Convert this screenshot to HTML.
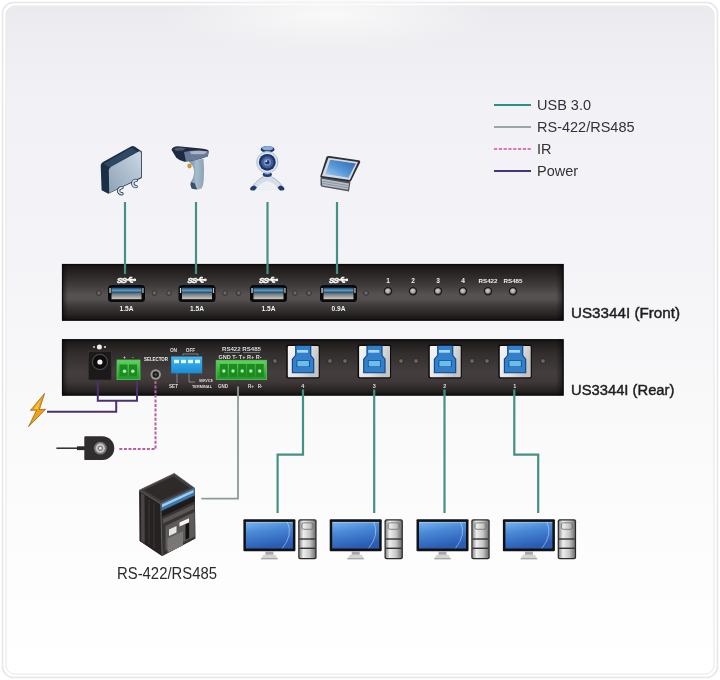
<!DOCTYPE html>
<html><head><meta charset="utf-8">
<style>
html,body{margin:0;padding:0;width:720px;height:680px;overflow:hidden;background:#fff;}
svg{display:block;filter:blur(0.45px);}
text{font-family:"Liberation Sans",sans-serif;}
</style></head>
<body>
<svg width="720" height="680" viewBox="0 0 720 680">
<defs>
  <linearGradient id="bg" x1="0" y1="0" x2="0" y2="1">
    <stop offset="0" stop-color="#eaeaee"/>
    <stop offset="0.03" stop-color="#ededf1"/>
    <stop offset="0.09" stop-color="#f0f0f4"/>
    <stop offset="0.15" stop-color="#f2f2f6"/>
    <stop offset="0.37" stop-color="#f4f4f8"/>
    <stop offset="0.65" stop-color="#fafafa"/>
    <stop offset="0.92" stop-color="#fefefe"/>
    <stop offset="1" stop-color="#ffffff"/>
  </linearGradient>
  <linearGradient id="panel" x1="0" y1="0" x2="0" y2="1">
    <stop offset="0" stop-color="#141111"/>
    <stop offset="0.06" stop-color="#1e1a1a"/>
    <stop offset="0.2" stop-color="#2c2828"/>
    <stop offset="0.42" stop-color="#464141"/>
    <stop offset="0.55" stop-color="#585252"/>
    <stop offset="0.63" stop-color="#545050"/>
    <stop offset="0.74" stop-color="#3f3a3a"/>
    <stop offset="0.88" stop-color="#2a2626"/>
    <stop offset="1" stop-color="#121010"/>
  </linearGradient>
  <linearGradient id="panel2" x1="0" y1="0" x2="0" y2="1">
    <stop offset="0" stop-color="#141111"/>
    <stop offset="0.07" stop-color="#221e1e"/>
    <stop offset="0.25" stop-color="#332e2e"/>
    <stop offset="0.6" stop-color="#443e3e"/>
    <stop offset="0.76" stop-color="#3e3838"/>
    <stop offset="0.9" stop-color="#2a2525"/>
    <stop offset="1" stop-color="#121010"/>
  </linearGradient>
  <linearGradient id="pedge" x1="0" y1="0" x2="1" y2="0">
    <stop offset="0" stop-color="#000" stop-opacity="0.5"/>
    <stop offset="0.012" stop-color="#000" stop-opacity="0"/>
    <stop offset="0.985" stop-color="#000" stop-opacity="0"/>
    <stop offset="1" stop-color="#000" stop-opacity="0.5"/>
  </linearGradient>
  <linearGradient id="ablue" x1="0" y1="0" x2="0" y2="1">
    <stop offset="0" stop-color="#1d3f66"/>
    <stop offset="0.5" stop-color="#5a9cc8"/>
    <stop offset="1" stop-color="#1f4a70"/>
  </linearGradient>
  <linearGradient id="asilver" x1="0" y1="0" x2="0" y2="1">
    <stop offset="0" stop-color="#5f6a6a"/>
    <stop offset="1" stop-color="#cfcac6"/>
  </linearGradient>
  <linearGradient id="bframe" x1="0" y1="0" x2="1" y2="0.4">
    <stop offset="0" stop-color="#f6f6f6"/>
    <stop offset="0.6" stop-color="#e2e2e2"/>
    <stop offset="1" stop-color="#c4c4c4"/>
  </linearGradient>
  <linearGradient id="screen" x1="0" y1="0" x2="0.3" y2="1">
    <stop offset="0" stop-color="#7ab4ec"/>
    <stop offset="0.4" stop-color="#4a8ad8"/>
    <stop offset="1" stop-color="#2a5cb4"/>
  </linearGradient>
  <linearGradient id="tower" x1="0" y1="0" x2="1" y2="0">
    <stop offset="0" stop-color="#8a8a8a"/>
    <stop offset="0.25" stop-color="#eeeeee"/>
    <stop offset="0.65" stop-color="#c6c6c6"/>
    <stop offset="1" stop-color="#707070"/>
  </linearGradient>
  <linearGradient id="green" x1="0" y1="0" x2="0" y2="1">
    <stop offset="0" stop-color="#5fd35f"/>
    <stop offset="1" stop-color="#1f9a28"/>
  </linearGradient>
  <linearGradient id="dip" x1="0" y1="0" x2="0" y2="1">
    <stop offset="0" stop-color="#40b8f2"/>
    <stop offset="1" stop-color="#1a8cd6"/>
  </linearGradient>
  <linearGradient id="hdd" x1="0" y1="1" x2="1" y2="0">
    <stop offset="0" stop-color="#8ea2b6"/>
    <stop offset="0.6" stop-color="#b2c2d2"/>
    <stop offset="1" stop-color="#cdd9e4"/>
  </linearGradient>
  <linearGradient id="pos" x1="1" y1="0" x2="0" y2="1">
    <stop offset="0" stop-color="#2a64ac"/>
    <stop offset="0.55" stop-color="#5a9ad8"/>
    <stop offset="1" stop-color="#a8d4f4"/>
  </linearGradient>
  <radialGradient id="glow" cx="0.5" cy="0.5" r="0.5">
    <stop offset="0" stop-color="#fafafa" stop-opacity="0.95"/>
    <stop offset="0.5" stop-color="#f8f8f8" stop-opacity="0.5"/>
    <stop offset="1" stop-color="#f6f6f8" stop-opacity="0"/>
  </radialGradient>
  <linearGradient id="scanh" x1="0" y1="0" x2="1" y2="0">
    <stop offset="0" stop-color="#6e8aa2"/>
    <stop offset="0.5" stop-color="#a6bccc"/>
    <stop offset="1" stop-color="#8aa2b6"/>
  </linearGradient>
  <radialGradient id="led" cx="0.45" cy="0.4" r="0.6">
    <stop offset="0" stop-color="#d6d6d6"/>
    <stop offset="0.7" stop-color="#9a9898"/>
    <stop offset="1" stop-color="#3a3636"/>
  </radialGradient>
  <radialGradient id="dled" cx="0.5" cy="0.5" r="0.5">
    <stop offset="0" stop-color="#7a7575"/>
    <stop offset="0.6" stop-color="#5a5555"/>
    <stop offset="1" stop-color="#262222"/>
  </radialGradient>

  <g id="usba">
    <rect x="0" y="0" width="37" height="17" rx="3.5" fill="#0b0a0a"/>
    <rect x="3.5" y="2.6" width="30" height="5.4" fill="url(#ablue)"/>
    <rect x="3.5" y="8" width="30" height="6.2" fill="url(#asilver)"/>
    <rect x="1.4" y="3" width="1.3" height="5" fill="#d8d8d8"/>
    <rect x="34.3" y="3" width="1.3" height="5" fill="#b8b8b8"/>
  </g>
  <g id="ss">
    <text x="0.2" y="6.4" font-size="8" font-weight="bold" fill="#f6f6f6" stroke="#f6f6f6" stroke-width="0.5" font-style="italic" letter-spacing="-0.9">SS</text>
    <path d="M9.4 3.6 H17.6 M11.6 3.6 L13.4 1.3 H15.6 M12.8 3.6 L14.4 5.9 H16.4" stroke="#f6f6f6" stroke-width="1.7" fill="none"/>
    <circle cx="18" cy="3.6" r="1.4" fill="#f6f6f6"/>
  </g>
  <g id="usbb">
    <rect x="0" y="0" width="33.5" height="34" rx="2" fill="#0e0c0c"/>
    <rect x="1.5" y="1.4" width="30.9" height="31.3" rx="1" fill="url(#bframe)"/>
    <path d="M8.8 0.8 H25 V10.6 L28 14.3 V28.7 H5.5 V14.3 L8.8 10.6 Z" fill="#124a88"/>
    <path d="M10 1.5 H23.8 V11 L26.8 14.6 V27.6 H6.7 V14.6 L10 11 Z" fill="#3280cc"/>
    <rect x="10.7" y="5.4" width="11" height="2.7" fill="#a9d6f4"/>
    <rect x="10.3" y="15.8" width="13" height="6.6" fill="#0c3c78"/>
    <rect x="11" y="16.3" width="11.6" height="5.6" fill="#6bbdea"/>
  </g>
  <g id="pc">
    <rect x="0" y="0" width="52" height="32" rx="1" fill="#121212"/>
    <rect x="2.5" y="2.6" width="47" height="26.6" fill="url(#screen)"/>
    <path d="M44 2.8 Q50 15 39 29" stroke="#ffffff" stroke-width="0.9" fill="none" opacity="0.45"/>
    <rect x="2.5" y="2.6" width="47" height="1.2" fill="#ffffff" opacity="0.25"/>
    <rect x="22" y="32" width="8" height="3.6" fill="#a8a8a8"/>
    <path d="M17.5 40 L20 35.4 H32 L34.5 40 Z" fill="#d4d4d4"/>
    <path d="M17.5 40 L34.5 40 L34 39 L18 39 Z" fill="#9a9a9a"/>
    <rect x="54.8" y="0" width="18.4" height="40" rx="2" fill="#2a2a2a"/>
    <rect x="56" y="1.2" width="16" height="37.6" rx="1.2" fill="url(#tower)"/>
    <rect x="56" y="19" width="16" height="1.4" fill="#333"/>
    <rect x="56" y="28.3" width="16" height="1.4" fill="#333"/>
    <rect x="58.5" y="3.5" width="11" height="6.5" rx="2" fill="none" stroke="#6a6a6a" stroke-width="0.8"/>
  </g>
</defs>
<rect x="0" y="0" width="720" height="680" fill="#ffffff"/>
<rect x="2.5" y="2.5" width="715" height="675" rx="11" fill="none" stroke="#e6e6e6" stroke-width="1.5"/>
<rect x="6" y="6" width="708" height="668" rx="9" fill="url(#bg)" stroke="#e7e7e9" stroke-width="1"/>
<ellipse cx="330" cy="14" rx="170" ry="38" fill="url(#glow)"/>

<g stroke-width="2.2">
  <line x1="494" y1="105" x2="531" y2="105" stroke="#2a9284"/>
  <line x1="494" y1="127" x2="531" y2="127" stroke="#9aa8a2"/>
  <line x1="494" y1="149" x2="531" y2="149" stroke="#dc78b8" stroke-dasharray="3.2 1.6"/>
  <line x1="494" y1="171" x2="531" y2="171" stroke="#4a3478"/>
</g>
<g font-size="14.5" fill="#333">
  <text x="537" y="109.6">USB 3.0</text>
  <text x="537" y="131.6">RS-422/RS485</text>
  <text x="537" y="153.6">IR</text>
  <text x="537" y="175.6">Power</text>
</g>

<rect x="62" y="264" width="501.5" height="56.6" fill="url(#panel)"/>
<rect x="62" y="264" width="501.5" height="56.6" fill="url(#pedge)"/>
<rect x="62.5" y="264.5" width="500.5" height="55.6" fill="none" stroke="#0c0a0a" stroke-width="1.2"/>
<line x1="125" y1="202" x2="125" y2="274" stroke="#468f83" stroke-width="2.2"/>
<line x1="196" y1="202" x2="196" y2="274" stroke="#468f83" stroke-width="2.2"/>
<line x1="267.5" y1="202" x2="267.5" y2="274" stroke="#468f83" stroke-width="2.2"/>
<line x1="337" y1="202" x2="337" y2="274" stroke="#468f83" stroke-width="2.2"/>
<use href="#usba" x="108" y="285"/>
<use href="#ss" x="116.8" y="276.3"/>
<text x="126.5" y="311.2" font-size="6.6" font-weight="bold" fill="#f2f2f2" text-anchor="middle">1.5A</text>
<use href="#usba" x="178.5" y="285"/>
<use href="#ss" x="187.3" y="276.3"/>
<text x="197.0" y="311.2" font-size="6.6" font-weight="bold" fill="#f2f2f2" text-anchor="middle">1.5A</text>
<use href="#usba" x="250" y="285"/>
<use href="#ss" x="258.8" y="276.3"/>
<text x="268.5" y="311.2" font-size="6.6" font-weight="bold" fill="#f2f2f2" text-anchor="middle">1.5A</text>
<use href="#usba" x="320" y="285"/>
<use href="#ss" x="328.8" y="276.3"/>
<text x="338.5" y="311.2" font-size="6.6" font-weight="bold" fill="#f2f2f2" text-anchor="middle">0.9A</text>
<circle cx="98.9" cy="293" r="2.6" fill="url(#dled)"/>
<circle cx="154.4" cy="293" r="2.6" fill="url(#dled)"/>
<circle cx="169" cy="293" r="2.6" fill="url(#dled)"/>
<circle cx="225" cy="293" r="2.6" fill="url(#dled)"/>
<circle cx="238.7" cy="293" r="2.6" fill="url(#dled)"/>
<circle cx="295" cy="293" r="2.6" fill="url(#dled)"/>
<circle cx="309" cy="293" r="2.6" fill="url(#dled)"/>
<circle cx="366" cy="293" r="2.6" fill="url(#dled)"/>
<circle cx="388" cy="291.2" r="4.2" fill="#1e1a1a"/>
<circle cx="388" cy="291.2" r="3" fill="url(#led)"/>
<text x="388" y="282.6" font-size="6.6" font-weight="bold" fill="#f0f0f0" text-anchor="middle">1</text>
<circle cx="413" cy="291.2" r="4.2" fill="#1e1a1a"/>
<circle cx="413" cy="291.2" r="3" fill="url(#led)"/>
<text x="413" y="282.6" font-size="6.6" font-weight="bold" fill="#f0f0f0" text-anchor="middle">2</text>
<circle cx="438" cy="291.2" r="4.2" fill="#1e1a1a"/>
<circle cx="438" cy="291.2" r="3" fill="url(#led)"/>
<text x="438" y="282.6" font-size="6.6" font-weight="bold" fill="#f0f0f0" text-anchor="middle">3</text>
<circle cx="463" cy="291.2" r="4.2" fill="#1e1a1a"/>
<circle cx="463" cy="291.2" r="3" fill="url(#led)"/>
<text x="463" y="282.6" font-size="6.6" font-weight="bold" fill="#f0f0f0" text-anchor="middle">4</text>
<circle cx="488" cy="291.2" r="4.2" fill="#1e1a1a"/>
<circle cx="488" cy="291.2" r="3" fill="url(#led)"/>
<text x="488" y="282.6" font-size="6.2" font-weight="bold" fill="#f0f0f0" text-anchor="middle">RS422</text>
<circle cx="513" cy="291.2" r="4.2" fill="#1e1a1a"/>
<circle cx="513" cy="291.2" r="3" fill="url(#led)"/>
<text x="513" y="282.6" font-size="6.2" font-weight="bold" fill="#f0f0f0" text-anchor="middle">RS485</text>
<rect x="62" y="339.3" width="501.5" height="56.2" fill="url(#panel2)"/>
<rect x="62" y="339.3" width="501.5" height="56.2" fill="url(#pedge)"/>
<rect x="62.5" y="339.8" width="500.5" height="55.2" fill="none" stroke="#0c0a0a" stroke-width="1.2"/>
<rect x="88.3" y="351.3" width="23" height="28.7" fill="#1b1919" stroke="#3a3636" stroke-width="0.8"/>
<circle cx="99.9" cy="362" r="7.6" fill="#0e0d0d" stroke="#4a4646" stroke-width="1.2"/>
<circle cx="99.9" cy="362" r="2.6" fill="#f0f0f0"/>
<circle cx="99.4" cy="347" r="2.5" fill="#f0f0f0"/>
<circle cx="94" cy="347" r="0.9" fill="#ddd"/>
<circle cx="105" cy="347" r="1.1" fill="#ddd"/>

<rect x="117" y="360" width="23" height="19.5" fill="url(#green)" stroke="#58c858" stroke-width="0.8"/>
<rect x="119.5" y="364.5" width="8" height="12" fill="#1e8a22"/>
<rect x="129" y="364.5" width="8" height="12" fill="#1e8a22"/>
<circle cx="124.5" cy="371.3" r="1.8" fill="#a8f0a8"/>
<circle cx="132.8" cy="371.3" r="1.8" fill="#a8f0a8"/>
<text x="124.5" y="359" font-size="4.5" font-weight="bold" fill="#ddd" text-anchor="middle">+</text>
<text x="132.8" y="359" font-size="4.5" font-weight="bold" fill="#ddd" text-anchor="middle">-</text>
<text x="156" y="360.5" font-size="4.8" font-weight="bold" fill="#f0f0f0" text-anchor="middle" textLength="24" lengthAdjust="spacingAndGlyphs">SELECTOR</text>
<circle cx="155.7" cy="374.5" r="5.2" fill="#9a9696"/>
<circle cx="155.7" cy="374.5" r="3.2" fill="#1a1818"/>
<circle cx="155.7" cy="374.5" r="1.3" fill="#555"/>

<rect x="171.2" y="356.5" width="31" height="16.8" fill="url(#dip)"/>
<rect x="174" y="359.8" width="5" height="3.4" fill="#e8f6ff"/>
<rect x="181" y="359.8" width="5" height="3.4" fill="#e8f6ff"/>
<rect x="188" y="359.8" width="5" height="3.4" fill="#e8f6ff"/>
<rect x="195" y="359.8" width="5" height="3.4" fill="#e8f6ff"/>
<text x="173.5" y="352" font-size="4.8" font-weight="bold" fill="#dcdcdc" text-anchor="middle">ON</text>
<text x="190.5" y="352" font-size="4.8" font-weight="bold" fill="#dcdcdc" text-anchor="middle">OFF</text>
<path d="M183 355.5 V354 H198 V355.5" stroke="#bbb" stroke-width="0.6" fill="none"/>
<path d="M177 373.5 V383 M189 373.5 V382 H195" stroke="#bbb" stroke-width="0.6" fill="none"/>
<text x="173.5" y="388" font-size="4.6" font-weight="bold" fill="#dcdcdc" text-anchor="middle">SET</text>
<text x="202" y="388" font-size="4.4" font-weight="bold" fill="#dcdcdc" text-anchor="middle" textLength="20" lengthAdjust="spacingAndGlyphs">TERMINAL</text>
<text x="206" y="381.5" font-size="4.4" font-weight="bold" fill="#dcdcdc" text-anchor="middle" textLength="14" lengthAdjust="spacingAndGlyphs">SERVICE</text>

<rect x="216.2" y="360.3" width="50.4" height="19.1" fill="url(#green)" stroke="#58c858" stroke-width="0.8"/>
<rect x="219.8" y="364" width="8" height="13" fill="#1e8a22"/>
<circle cx="223.8" cy="371" r="1.7" fill="#a8f0a8"/>
<rect x="229" y="364" width="8" height="13" fill="#1e8a22"/>
<circle cx="233" cy="371" r="1.7" fill="#a8f0a8"/>
<rect x="238.2" y="364" width="8" height="13" fill="#1e8a22"/>
<circle cx="242.2" cy="371" r="1.7" fill="#a8f0a8"/>
<rect x="246.8" y="364" width="8" height="13" fill="#1e8a22"/>
<circle cx="250.8" cy="371" r="1.7" fill="#a8f0a8"/>
<rect x="255.7" y="364" width="8" height="13" fill="#1e8a22"/>
<circle cx="259.7" cy="371" r="1.7" fill="#a8f0a8"/>
<text x="241.5" y="350.5" font-size="5" font-weight="bold" fill="#dcdcdc" text-anchor="middle" textLength="39" lengthAdjust="spacingAndGlyphs">RS422 RS485</text>
<path d="M224 352.5 H240 M243 352.5 H260" stroke="#bbb" stroke-width="0.5"/>
<text x="240" y="359" font-size="4.6" font-weight="bold" fill="#dcdcdc" text-anchor="middle" textLength="43" lengthAdjust="spacingAndGlyphs">GND T-  T+  R+  R-</text>
<text x="223" y="388" font-size="4.5" font-weight="bold" fill="#dcdcdc" text-anchor="middle">GND</text>
<text x="251" y="388" font-size="4.5" font-weight="bold" fill="#dcdcdc" text-anchor="middle">R+</text>
<text x="260" y="388" font-size="4.5" font-weight="bold" fill="#dcdcdc" text-anchor="middle">R-</text>

<use href="#usbb" x="286.3" y="344.6"/>
<text x="302.90000000000003" y="388" font-size="5.5" font-weight="bold" fill="#dcdcdc" text-anchor="middle">4</text>
<use href="#usbb" x="357.6" y="344.6"/>
<text x="374.20000000000005" y="388" font-size="5.5" font-weight="bold" fill="#dcdcdc" text-anchor="middle">3</text>
<use href="#usbb" x="428.3" y="344.6"/>
<text x="444.90000000000003" y="388" font-size="5.5" font-weight="bold" fill="#dcdcdc" text-anchor="middle">2</text>
<use href="#usbb" x="498.3" y="344.6"/>
<text x="514.9" y="388" font-size="5.5" font-weight="bold" fill="#dcdcdc" text-anchor="middle">1</text>
<circle cx="275" cy="361" r="2.6" fill="url(#dled)"/>
<circle cx="330" cy="361" r="2.6" fill="url(#dled)"/>
<circle cx="345" cy="361" r="2.6" fill="url(#dled)"/>
<circle cx="401" cy="361" r="2.6" fill="url(#dled)"/>
<circle cx="416" cy="361" r="2.6" fill="url(#dled)"/>
<circle cx="472" cy="361" r="2.6" fill="url(#dled)"/>
<circle cx="487" cy="361" r="2.6" fill="url(#dled)"/>
<circle cx="543" cy="361" r="2.6" fill="url(#dled)"/>
<path d="M97.8 381 V400.8 H137 V381 M116.2 400.8 V411.8 H47" stroke="#4a3270" stroke-width="2" fill="none"/>
<path d="M44.6 393.4 L30.4 410.4 L36.6 410 L28.6 426.6 L45.6 409.2 L39.4 409.6 Z" fill="#eda216" stroke="#8a5a10" stroke-width="0.7" stroke-linejoin="round"/>
<path d="M40.5 400 L34 409 L37.5 409 Z" fill="#ffcf50" opacity="0.8"/>
<path d="M155.5 381 V449 H118" stroke="#b8609e" stroke-width="2" fill="none" stroke-dasharray="3 1.6"/>
<path d="M56.4 448.2 H80" stroke="#2a2a2a" stroke-width="1.5"/>
<path d="M77 446.3 H85 V450.1 H77 Z" fill="#2a2a2a"/>
<path d="M85.5 436.2 H102.3 A11.95 11.95 0 0 1 102.3 460.1 H85.5 Q84.3 460.1 84.3 458.9 V437.4 Q84.3 436.2 85.5 436.2 Z" fill="#2f2d2d"/>
<circle cx="100.3" cy="448.2" r="6.4" fill="#7a7676"/>
<circle cx="100.3" cy="448.2" r="4.6" fill="#c9c9c9"/>
<circle cx="100.3" cy="448.2" r="2.8" fill="#8a8686"/>
<circle cx="100.3" cy="448.2" r="1.3" fill="#eee"/>

<path d="M238 386.5 V498.6 H201.3" stroke="#8e9a92" stroke-width="1.8" fill="none"/>
<path d="M139.1 490.3 L174.3 473.4 L194.8 488.3 L195.3 538.4 L162.1 556 L139.7 541.1 Z" fill="#2c2828"/>
<path d="M139.1 490.3 L174.3 473.4 L194.8 488.3 L160.7 503.9 Z" fill="#433e3e"/>
<path d="M144 490.2 L173.6 476.2 L189.5 488 L161 500.6 Z" fill="#2e2a2a"/>
<path d="M139.7 490.8 L160.7 503.9 L162.1 556 L139.7 541.1 Z" fill="#262222"/>
<path d="M141 493 L144.5 495 L144.8 543.5 L141.2 541.2 Z" fill="#4a4545"/>
<path d="M160.7 503.9 L194.8 488.3 L195.3 538.4 L162.1 556 Z" fill="#383434"/>
<path d="M161.2 503.2 L194.6 487.8 L194.6 495.2 L161.4 510.8 Z" fill="#3a78ae"/>
<path d="M162 504.6 L193.5 490 L193.5 492.6 L162 507.2 Z" fill="#9ccff0"/>
<path d="M161.5 511.5 L194.6 496 L194.6 501.5 L161.5 517 Z" fill="#1c1a1a"/>
<path d="M163 519 L194 504.5 L194 509 L163 523.5 Z" fill="#5a5656"/>
<path d="M165.5 526 L194.6 512 L194.8 536.5 L165.5 550.5 Z" fill="#5e5a5a"/>
<path d="M169 529.5 L176.5 526 L176.5 532.5 L169 536 Z" fill="#e4e4e4"/>
<path d="M179.5 522.6 L189 518.2 L189 522.2 L179.5 526.6 Z" fill="#f4f4f4"/>
<path d="M185.5 524.5 L189.2 522.8 L189.2 538 L185.5 539.7 Z" fill="#121010"/>
<path d="M167.5 538.5 L183 531.3 L183 545.5 L167.5 552.7 Z" fill="#7a7777"/>
<path d="M149 500 L149 544 M154 503 L154 548" stroke="#3a3636" stroke-width="1.1"/>
<path d="M139.1 490.3 L174.3 473.4 L194.8 488.3 M139.1 490.3 L160.7 503.9 L194.8 488.3 M160.7 503.9 L162.1 556" stroke="#6e6a6a" stroke-width="0.8" fill="none"/>

<path d="M303 389.5 V454.6 H277.6 V513" stroke="#468f83" stroke-width="2.2" fill="none"/>
<path d="M374.2 389.5 V513" stroke="#468f83" stroke-width="2.2" fill="none"/>
<path d="M444.5 389.5 V513" stroke="#468f83" stroke-width="2.2" fill="none"/>
<path d="M514.3 389.5 V454.6 H538.2 V513" stroke="#468f83" stroke-width="2.2" fill="none"/>
<use href="#pc" x="243.4" y="519.3"/>
<use href="#pc" x="329.7" y="519.3"/>
<use href="#pc" x="416.5" y="519.3"/>
<use href="#pc" x="502.9" y="519.3"/>
<g>
<path d="M100.7 165.6 Q100.5 163.5 103 162 L131 146.5 Q133 145.5 135 146.8 L141.8 151.5 L141.8 178 L108.4 193.8 L101.6 190.3 Z" fill="#1a2e44"/>
<path d="M103.5 163.8 L131.5 147.8 L137.5 151.5 L109.5 167.5 Z" fill="#2e4862"/>
<path d="M111.5 166.6 L138.6 151.5 Q141 150.6 141 153.5 L141 177.2 L109.2 193 L108.8 170.5 Q108.8 168.2 111.5 166.6 Z" fill="url(#hdd)"/>
<path d="M122 187.6 A3.4 3.1 0 1 0 122 193.8 M136.2 180.4 A3.4 3.1 0 1 0 136.2 186.6" stroke="#34485c" stroke-width="3.4" fill="none" stroke-linecap="round"/>
<path d="M122 187.6 A3.4 3.1 0 1 0 122 193.8 M136.2 180.4 A3.4 3.1 0 1 0 136.2 186.6" stroke="#d8e2ea" stroke-width="1.6" fill="none" stroke-linecap="round"/>
</g>
<g>
<path d="M189 160 L203.5 159 Q204.5 170 203.8 178.8 Q203.5 186 201.4 188.5 Q197 190.5 191.7 188.5 Q189.8 185 190.9 182 Q194.5 176 194 170.7 Q193 165 189 161.8 Z" fill="url(#scanh)"/>
<path d="M191.7 188.5 Q189.8 185 190.9 182 L195 183.5 Q195.5 187.5 197.5 189.2 Q194 189.6 191.7 188.5 Z" fill="#3a5068"/>
<path d="M171.5 149.7 Q172.5 146.5 178 146.3 L201 148.5 Q208.5 149.2 208.7 151.3 L207.9 156.2 Q197 160.5 184.4 161.8 Q179 160.5 176.3 157.8 Z" fill="#1e2a40"/>
<path d="M184 152 Q195 149.5 208.5 151.3 L207.9 156.2 Q197 160.5 186 161.5 Z" fill="#6a7a96"/>
<path d="M190 151.5 Q199 150 207 151.6 L205 154 Q197 154.5 191 154 Z" fill="#a8b4c8"/>
<path d="M174 149 Q176 147.5 180 147.6 L186 148.2 L183 150.5 L176 150.8 Z" fill="#4a5a74"/>
<ellipse cx="189.5" cy="166" rx="2.2" ry="2.4" fill="#c89838"/>
</g>
<g>
<path d="M252 187 Q259 177 267.3 175.5 Q276 177 283 187 L281 189.5 L254 189.5 Z" fill="#d6dce8"/>
<path d="M255.5 189.5 Q261 182 267.3 181 Q274 182 279.5 189.5 Z" fill="#eef0f5"/>
<path d="M252 187 Q259 177 267.3 175.5 Q276 177 283 187" stroke="#aab8d0" stroke-width="1" fill="none"/>
<path d="M250 189.2 Q250.5 186 254.5 185.5 L257 187.5 L254.5 190.5 Q250.5 191 250 189.2 Z" fill="#1e3a70"/>
<path d="M284.5 189.2 Q284 186 280 185.5 L277.5 187.5 L280 190.5 Q284 191 284.5 189.2 Z" fill="#1e3a70"/>
<ellipse cx="267.3" cy="174.6" rx="4.6" ry="2.4" fill="#1e3a70"/>
<ellipse cx="267.3" cy="173.6" rx="3" ry="1" fill="#7a9ad0"/>
<ellipse cx="267.6" cy="149.4" rx="6.9" ry="3.4" fill="#1e3a70"/>
<ellipse cx="267.6" cy="148.2" rx="5.6" ry="2.1" fill="#8aacd8"/>
<circle cx="267.3" cy="162.3" r="11" fill="#dfe4ee"/>
<circle cx="267.3" cy="162.3" r="10.6" fill="none" stroke="#a8b4c8" stroke-width="0.8"/>
<circle cx="267.3" cy="162.3" r="8.4" fill="#1a3266"/>
<circle cx="267.3" cy="162.3" r="6.2" fill="#3e5c96"/>
<circle cx="267.3" cy="162.3" r="3.8" fill="#6f8cc0"/>
<circle cx="267.3" cy="162.3" r="2" fill="#1e2e58"/>
<circle cx="266.3" cy="161.2" r="1" fill="#d8e4f4"/>
</g>
<g>
<path d="M320.5 177.5 L323 176.4 L350.5 181.5 L349 191.5 L322 186.8 Q320.5 186.3 320.5 184.8 Z" fill="#50565e"/>
<path d="M321.8 178.8 L349 183.4 L348 189.8 L322.3 185.5 Z" fill="#b8bec8"/>
<path d="M322.5 181.2 L348.5 185.6 M322.5 183.4 L348 187.8" stroke="#70767e" stroke-width="0.6"/>
<path d="M326.5 156.8 Q327.5 155.8 329.5 156 L358.5 160.3 Q361 160.8 360 162.8 L351.3 180.6 Q350.5 182 348.8 181.7 L321.5 177.6 Q319.5 177.2 320.5 175.5 Z" fill="#2a2f38"/>
<path d="M328.5 157.8 L358 162 L349.8 180 L321.8 176 Z" fill="#d4d9e0"/>
<path d="M330.2 159.8 L355.8 163.4 L348.5 177.8 L325.4 174 Z" fill="url(#pos)"/>
</g>
<g fill="#1e1e1e" stroke="#1e1e1e" stroke-width="0.45">
  <text x="571" y="318.3" font-size="15.4" textLength="109" lengthAdjust="spacingAndGlyphs">US3344I (Front)</text>
  <text x="571" y="395" font-size="15.4" textLength="103.4" lengthAdjust="spacingAndGlyphs">US3344I (Rear)</text>
</g>
<text x="117" y="578.8" font-size="16" fill="#2a2a2a" textLength="100" lengthAdjust="spacingAndGlyphs">RS-422/RS485</text>

</svg>
</body></html>
